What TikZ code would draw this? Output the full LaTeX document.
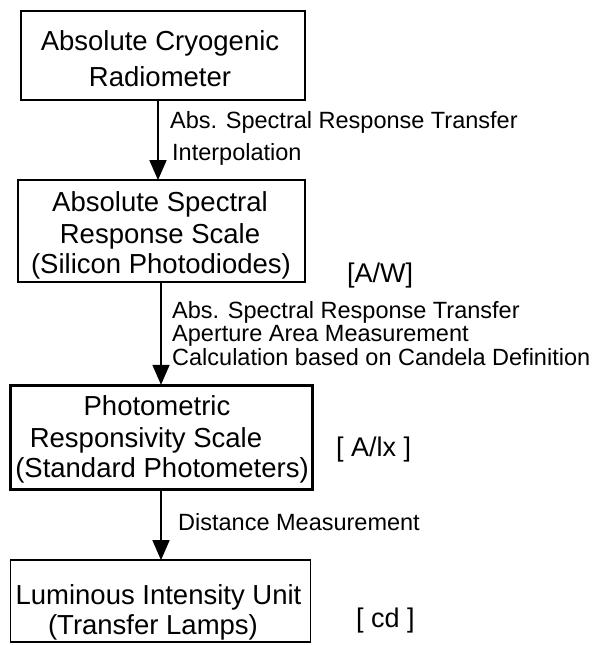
\documentclass[tikz,border=0pt]{standalone}
\usepackage{fontspec}
\setmainfont{Liberation Sans}
\usetikzlibrary{arrows.meta}
\begin{document}
\begin{tikzpicture}[x=1pt,y=-1pt,
  box/.style={draw=black, line width=1.8pt, rectangle, inner sep=0pt},
  thickbox/.style={box, line width=3.4pt},
  boxtext/.style={anchor=base, inner sep=0pt, font=\fontsize{27.5}{30}\selectfont},
  lbl/.style={anchor=base west, inner sep=0pt, font=\fontsize{23.5}{26}\selectfont},
  unit/.style={anchor=base west, inner sep=0pt, font=\fontsize{27}{30}\selectfont},
  arr/.style={line width=1.8pt, -{Triangle[length=20pt,width=17pt]}, shorten >=-1pt}]
\useasboundingbox (0,0) rectangle (597,645);
% boxes
\node[box, minimum width=284pt, minimum height=89pt] (b1) at (163,55.5) {};
\node[box, minimum width=287pt, minimum height=102pt] (b2) at (161.5,231) {};
\node[thickbox, minimum width=302pt, minimum height=104pt] (b3) at (161.5,437.5) {};
\node[box, minimum width=300pt, minimum height=82pt] (b4) at (160.5,601) {};
% box texts
\node[boxtext] (t1a) at (160,50) {Absolute Cryogenic};
\node[boxtext] (t1b) at (160,86) {Radiometer};
\node[boxtext] (t2a) at (160,211) {Absolute Spectral};
\node[boxtext] (t2b) at (160,243) {Response Scale};
\node[boxtext] (t2c) at (161,273) {(Silicon Photodiodes)};
\node[boxtext] (t3a) at (157,415) {Photometric};
\node[boxtext] (t3b) at (146,447) {Responsivity Scale};
\node[boxtext] (t3c) at (162,477) {(Standard Photometers)};
\node[boxtext] (t4a) at (158.5,604) {Luminous Intensity Unit};
\node[boxtext] (t4b) at (153,634) {(Transfer Lamps)};
% arrows
\draw[arr] ([xshift=-5pt]b1.south) -- ([xshift=-3.5pt]b2.north);
\draw[arr] ([xshift=-0.5pt]b2.south) -- ([xshift=-0.5pt]b3.north);
\draw[arr] ([xshift=-0.5pt]b3.south) -- ([xshift=0.5pt]b4.north);
% labels
\node[lbl] (l1a) at (170,128) {Abs. Spectral Response Transfer};
\node[lbl] (l1b) at (172,160) {Interpolation};
\node[lbl] (l2a) at (172,318) {Abs. Spectral Response Transfer};
\node[lbl] (l2b) at (172,341) {Aperture Area Measurement};
\node[lbl] (l2c) at (172,365) {Calculation based on Candela Definition};
\node[lbl] (l3a) at (178,530) {Distance Measurement};
% units
\node[unit] (u1) at (347,282) {[A/W]};
\node[unit] (u2) at (336,456) {[ A/lx ]};
\node[unit] (u3) at (356,627) {[ cd ]};
\end{tikzpicture}
\end{document}
